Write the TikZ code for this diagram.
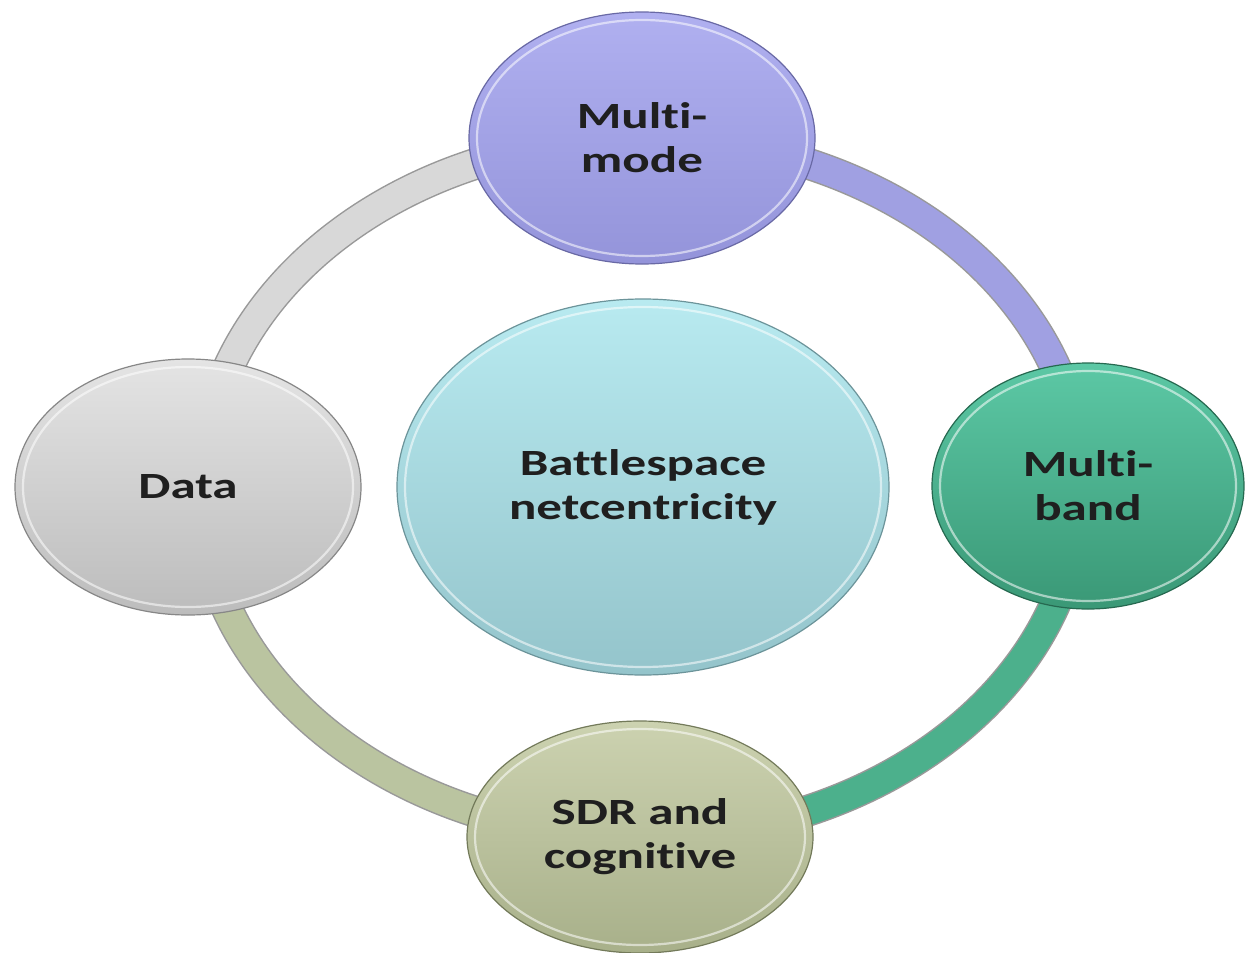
\documentclass[tikz,border=0pt]{standalone}
\usepackage{fontspec}
\setmainfont{Carlito}[FakeStretch=1.38, Ligatures=NoCommon]
\usetikzlibrary{shapes.geometric}
\definecolor{mmTop}{RGB}{176,176,240}
\definecolor{mmBot}{RGB}{148,148,218}
\definecolor{mmEdge}{RGB}{105,105,165}
\definecolor{mbTop}{RGB}{92,200,165}
\definecolor{mbBot}{RGB}{58,152,118}
\definecolor{mbEdge}{RGB}{38,105,80}
\definecolor{sdTop}{RGB}{204,210,176}
\definecolor{sdBot}{RGB}{168,176,138}
\definecolor{sdEdge}{RGB}{115,122,90}
\definecolor{daTop}{RGB}{228,228,228}
\definecolor{daBot}{RGB}{188,188,188}
\definecolor{daEdge}{RGB}{135,135,135}
\definecolor{ceTop}{RGB}{184,234,240}
\definecolor{ceBot}{RGB}{148,196,203}
\definecolor{ceEdge}{RGB}{108,148,154}
\definecolor{arcGray}{RGB}{216,216,216}
\definecolor{arcPurple}{RGB}{160,160,226}
\definecolor{arcTeal}{RGB}{76,176,140}
\definecolor{arcOlive}{RGB}{186,196,160}
\pgfdeclarelayer{bg}
\pgfsetlayers{bg,main}
\begin{document}
\begin{tikzpicture}[x=1pt,y=-1pt,
  bub/.style={ellipse, inner sep=0pt, align=center, line width=1.2pt,
    font=\bfseries\fontsize{37}{44}\selectfont, text={black!88}},
  rimhi/.style={white, opacity=0.55, line width=2.2pt},
  ringedge/.style={line width=32pt, draw=black!40},
  ringseg/.style={line width=29pt}]
\useasboundingbox (0,0) rectangle (1245,953);

% center
\node[bub, minimum width=492pt, minimum height=376pt, top color=ceTop, bottom color=ceBot, draw=ceEdge]
  (ctr) at (643,487) {Battlespace\\netcentricity};
\draw[rimhi] (ctr.center) ellipse[x radius=238, y radius=180];

% outer nodes
\node[bub, minimum width=346pt, minimum height=252pt, top color=mmTop, bottom color=mmBot, draw=mmEdge]
  (mm) at (642,138) {Multi-\\mode};
\draw[rimhi] (mm.center) ellipse[x radius=165, y radius=118];
\node[bub, minimum width=312pt, minimum height=246pt, top color=mbTop, bottom color=mbBot, draw=mbEdge]
  (mb) at (1088,486) {Multi-\\band};
\draw[rimhi] (mb.center) ellipse[x radius=148, y radius=115];
\node[bub, minimum width=346pt, minimum height=232pt, top color=sdTop, bottom color=sdBot, draw=sdEdge]
  (sd) at (640,837) {SDR and\\cognitive};
\draw[rimhi] (sd.center) ellipse[x radius=165, y radius=108];
\node[bub, minimum width=346pt, minimum height=256pt, top color=daTop, bottom color=daBot, draw=daEdge]
  (da) at (188,487) {Data};
\draw[rimhi] (da.center) ellipse[x radius=165, y radius=120];

% ring
\begin{pgfonlayer}{bg}
\fill[white] (0,0) rectangle (1245,953);
\draw[ringedge] (mm.center) arc[start angle=-90, end angle=-180, x radius=440, y radius=349];
\draw[ringseg, draw=arcGray] (mm.center) arc[start angle=-90, end angle=-180, x radius=440, y radius=349];
\draw[ringedge] (mm.center) arc[start angle=-90, end angle=0, x radius=440, y radius=349];
\draw[ringseg, draw=arcPurple] (mm.center) arc[start angle=-90, end angle=0, x radius=440, y radius=349];
\draw[ringedge] (sd.center) arc[start angle=90, end angle=0, x radius=440, y radius=349];
\draw[ringseg, draw=arcTeal] (sd.center) arc[start angle=90, end angle=0, x radius=440, y radius=349];
\draw[ringedge] (sd.center) arc[start angle=90, end angle=180, x radius=440, y radius=349];
\draw[ringseg, draw=arcOlive] (sd.center) arc[start angle=90, end angle=180, x radius=440, y radius=349];
\end{pgfonlayer}
\end{tikzpicture}
\end{document}
